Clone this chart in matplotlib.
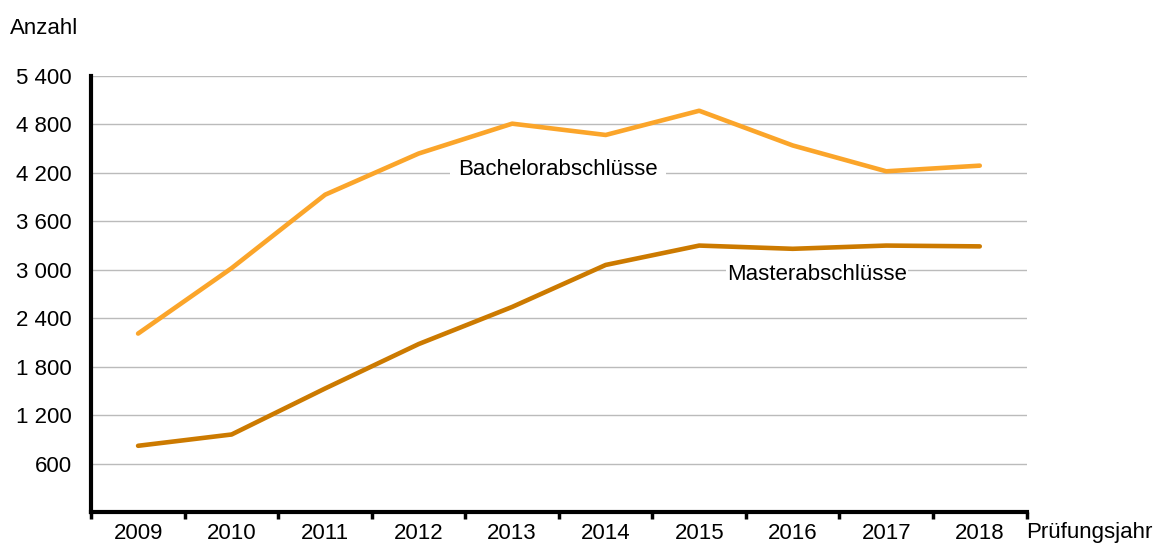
import numpy as np
import matplotlib.pyplot as plt
from matplotlib.ticker import FixedLocator

plt.rcParams['font.family'] = ['Liberation Sans', 'DejaVu Sans']

# Prüfungsjahre und Abschlusszahlen
years = ["2009", "2010", "2011", "2012", "2013", "2014", "2015", "2016", "2017", "2018"]
bachelor = [2210, 3020, 3930, 4440, 4810, 4670, 4970, 4540, 4220, 4290]
master = [820, 960, 1530, 2080, 2540, 3060, 3300, 3260, 3300, 3290]
y_ticks = [600, 1200, 1800, 2400, 3000, 3600, 4200, 4800, 5400]

fs = 16
c_bachelor = "#FBA52A"
c_master = "#CC7A00"

fig = plt.figure(figsize=(11.56, 5.47), dpi=100)
ax = fig.add_axes([0.079, 0.064, 0.809, 0.797])

x = np.arange(len(years))
ax.plot(x, bachelor, color=c_bachelor, lw=3.3, solid_capstyle="round", zorder=3)
ax.plot(x, master, color=c_master, lw=3.3, solid_capstyle="round", zorder=3)

ax.set_xlim(-0.5, len(years) - 0.5)
ax.set_ylim(0, 5400)
ax.set_yticks(y_ticks)
ax.set_yticklabels([f"{v:,}".replace(",", " ") for v in y_ticks], fontsize=fs)
ax.set_xticks(x)
ax.set_xticklabels(years, fontsize=fs)
ax.xaxis.set_minor_locator(FixedLocator(np.arange(-0.5, len(years), 1.0)))

ax.tick_params(axis="y", length=0, pad=14)
ax.tick_params(axis="x", which="major", length=0, pad=8)
ax.tick_params(axis="x", which="minor", length=5, width=2.5, direction="out")

ax.grid(axis="y", color="#BBBBBB", lw=1.0, zorder=0)
ax.set_axisbelow(True)
for s in ["top", "right"]:
    ax.spines[s].set_visible(False)
for s in ["left", "bottom"]:
    ax.spines[s].set_linewidth(3)

ax.text(4.49, 4240, "Bachelorabschlüsse", fontsize=fs, ha="center", va="center",
        bbox=dict(facecolor="white", edgecolor="none", pad=6), zorder=4)
ax.text(7.26, 2940, "Masterabschlüsse", fontsize=fs, ha="center", va="center",
        bbox=dict(facecolor="white", edgecolor="none", pad=1), zorder=4)

fig.text(10 / 1156, 1 - 28 / 547, "Anzahl", fontsize=fs, ha="left", va="center")
fig.text(1152 / 1156, 1 - 538 / 547, "Prüfungsjahr", fontsize=fs, ha="right", va="baseline")

fig.savefig("out.png", dpi=100)
